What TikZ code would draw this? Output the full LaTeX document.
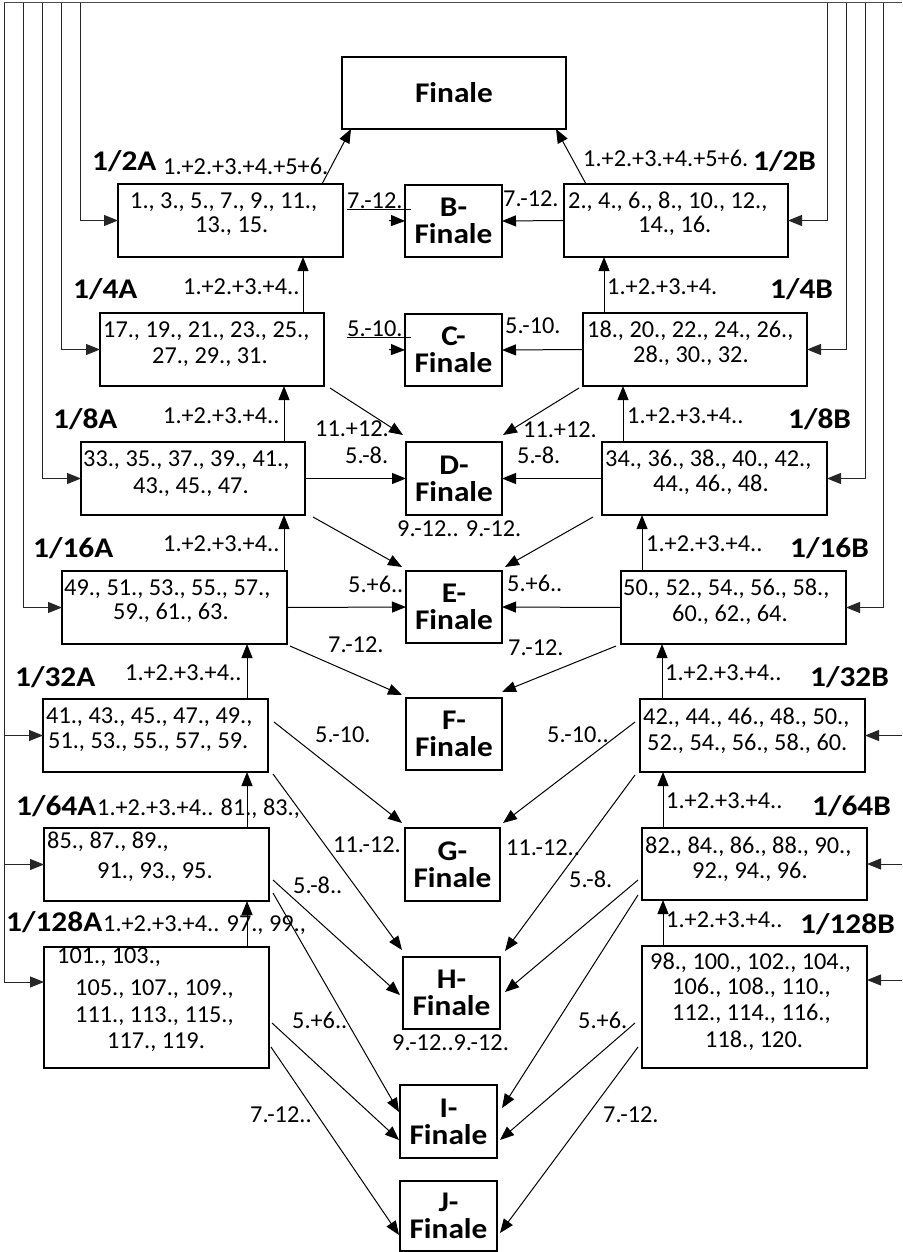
\documentclass[tikz,border=0pt]{standalone}
\usepackage{fontspec}
\setmainfont{Carlito}
\newfontfamily\bwide{Carlito}[FakeStretch=1.1]
\usetikzlibrary{arrows.meta,calc}
\newcommand\Tline[4]{\node[txt] (#1) at (#2,#3) {#4};}
\newcommand\Blab[4]{\node[blab] (#1) at (#2,#3) {#4};}
\begin{document}
\begin{tikzpicture}[x=1pt,y=-1pt,
  box/.style={draw, line width=2pt, anchor=north west, inner sep=0pt, outer sep=0pt},
  fbox/.style={box, font=\bwide\bfseries\fontsize{28.5}{27}\selectfont, align=center},
  txt/.style={anchor=base west, inner sep=0pt, font=\fontsize{24.3}{25}\selectfont},
  blab/.style={anchor=base west, inner sep=0pt, font=\bwide\bfseries\fontsize{28.5}{27}\selectfont},
  arr/.style={-{Triangle[length=14pt,width=11pt]}, line width=1pt},
  feed/.style={line width=1pt, draw=black!85},
  feedarr/.style={arr, draw=black!85},
]
\useasboundingbox (0,0) rectangle (902,1252);

% ---------- boxes ----------
\node[fbox, minimum width=224pt, minimum height=72pt] (fin) at (342,57) {Finale};
\node[box, minimum width=225pt, minimum height=73pt] (a2) at (118,184) {};
\node[fbox, minimum width=97pt, minimum height=72pt] (bf) at (405,185) {B-\\Finale};
\node[box, minimum width=224pt, minimum height=73pt] (b2) at (564,184) {};
\node[box, minimum width=224pt, minimum height=73pt] (a4) at (100,313) {};
\node[fbox, minimum width=97pt, minimum height=72pt] (c) at (405,314) {C-\\Finale};
\node[box, minimum width=224pt, minimum height=73pt] (b4) at (583,313) {};
\node[box, minimum width=224pt, minimum height=73pt] (a8) at (81,442) {};
\node[fbox, minimum width=96pt, minimum height=73pt] (d) at (406,442) {D-\\Finale};
\node[box, minimum width=225pt, minimum height=73pt] (b8) at (602,442) {};
\node[box, minimum width=225pt, minimum height=73pt] (a16) at (62,571) {};
\node[fbox, minimum width=96pt, minimum height=72pt] (e) at (406,571) {E-\\Finale};
\node[box, minimum width=225pt, minimum height=73pt] (b16) at (621,571) {};
\node[box, minimum width=225pt, minimum height=73pt] (a32) at (43,699) {};
\node[fbox, minimum width=96pt, minimum height=72pt] (f) at (406,698) {F-\\Finale};
\node[box, minimum width=225pt, minimum height=73pt] (b32) at (640,699) {};
\node[box, minimum width=225pt, minimum height=73pt] (a64) at (44,828) {};
\node[fbox, minimum width=95pt, minimum height=73pt] (g) at (405,828) {G-\\Finale};
\node[box, minimum width=225pt, minimum height=72pt] (b64) at (642,828) {};
\node[box, minimum width=225pt, minimum height=121pt] (a128) at (44,947) {};
\node[fbox, minimum width=97pt, minimum height=72pt] (h) at (403,957) {H-\\Finale};
\node[box, minimum width=225pt, minimum height=122pt] (b128) at (642,946) {};
\node[fbox, minimum width=97pt, minimum height=73pt] (i) at (400,1085) {I-\\Finale};
\node[fbox, minimum width=97pt, minimum height=70pt] (j) at (400,1181) {J-\\Finale};

% ---------- box texts ----------
\Tline{a2l1}{130}{208}{1., 3., 5., 7., 9., 11.,}
\Tline{a2l2}{195}{233}{13., 15.}
\Tline{b2l1}{568}{208}{2., 4., 6., 8., 10., 12.,}
\Tline{b2l2}{638}{233}{14., 16.}
\Tline{a4l1}{103}{337}{17., 19., 21., 23., 25.,}
\Tline{a4l2}{152}{363}{27., 29., 31.}
\Tline{b4l1}{587}{337}{18., 20., 22., 24., 26.,}
\Tline{b4l2}{633}{362}{28., 30., 32.}
\Tline{a8l1}{83}{466}{33., 35., 37., 39., 41.,}
\Tline{a8l2}{133}{493}{43., 45., 47.}
\Tline{b8l1}{605}{466}{34., 36., 38., 40., 42.,}
\Tline{b8l2}{653}{491}{44., 46., 48.}
\Tline{a16l1}{64}{595}{49., 51., 53., 55., 57.,}
\Tline{a16l2}{113}{619}{59., 61., 63.}
\Tline{b16l1}{623}{595}{50., 52., 54., 56., 58.,}
\Tline{b16l2}{672}{621}{60., 62., 64.}
\Tline{a32l1}{46}{723}{41., 43., 45., 47., 49.,}
\Tline{a32l2}{48}{748}{51., 53., 55., 57., 59.}
\Tline{b32l1}{643}{724}{42., 44., 46., 48., 50.,}
\Tline{b32l2}{647}{750}{52., 54., 56., 58., 60.}
\Tline{a64l1}{47}{848}{85., 87., 89.,}
\Tline{a64l2}{97}{878}{91., 93., 95.}
\Tline{b64l1}{645}{853}{82., 84., 86., 88., 90.,}
\Tline{b64l2}{692}{878}{92., 94., 96.}
\Tline{a128l1}{57}{963}{101., 103.,}
\Tline{a128l2}{75}{995}{105., 107., 109.,}
\Tline{a128l3}{75}{1022}{111., 113., 115.,}
\Tline{a128l4}{107}{1048}{117., 119.}
\Tline{b128l1}{650}{969}{98., 100., 102., 104.,}
\Tline{b128l2}{672}{994}{106., 108., 110.,}
\Tline{b128l3}{672}{1020}{112., 114., 116.,}
\Tline{b128l4}{705}{1047}{118., 120.}

% ---------- round labels ----------
\Blab{n1}{92}{171}{1/2A}
\Blab{n2}{753}{171}{1/2B}
\Blab{n3}{73}{298}{1/4A}
\Blab{n4}{770}{298}{1/4B}
\Blab{n5}{53}{428}{1/8A}
\Blab{n6}{788}{428}{1/8B}
\Blab{n7}{33}{557}{1/16A}
\Blab{n8}{790}{557}{1/16B}
\Blab{n9}{15}{686}{1/32A}
\Blab{n10}{810}{686}{1/32B}
\Blab{n11}{16}{815}{1/64A}
\Blab{n12}{812}{815}{1/64B}
\Blab{n13}{6}{931}{1/128A}
\Blab{n14}{800}{933}{1/128B}

% ---------- connector labels ----------
\Tline{l1}{163}{175}{1.+2.+3.+4.+5+6.}
\Tline{l2}{583}{167}{1.+2.+3.+4.+5+6.}
\Tline{l3}{347}{208}{7.-12.}
\Tline{l4}{503}{207}{7.-12.}
\Tline{l5}{183}{294}{1.+2.+3.+4..}
\Tline{l6}{607}{294}{1.+2.+3.+4.}
\Tline{l7}{347}{336}{5.-10.}
\Tline{l8}{505}{333}{5.-10.}
\Tline{l9}{163}{423}{1.+2.+3.+4..}
\Tline{l10}{315}{436}{11.+12.}
\Tline{l11}{345}{463}{5.-8.}
\Tline{l12}{523}{437}{11.+12.}
\Tline{l13}{517}{463}{5.-8.}
\Tline{l14}{627}{423}{1.+2.+3.+4..}
\Tline{l15}{397}{536}{9.-12.. 9.-12.}
\Tline{l16}{163}{551}{1.+2.+3.+4..}
\Tline{l17}{348}{592}{5.+6..}
\Tline{l18}{507}{591}{5.+6..}
\Tline{l19}{646}{551}{1.+2.+3.+4..}
\Tline{l20}{328}{652}{7.-12.}
\Tline{l21}{508}{655}{7.-12.}
\Tline{l22}{125}{680}{1.+2.+3.+4..}
\Tline{l23}{665}{680}{1.+2.+3.+4..}
\Tline{l24}{315}{742}{5.-10.}
\Tline{l25}{547}{742}{5.-10..}
\Tline{l26}{97}{815}{1.+2.+3.+4.. 81., 83.,}
\Tline{l27}{333}{852}{11.-12.}
\Tline{l28}{506}{855}{11.-12..}
\Tline{l29}{666}{808}{1.+2.+3.+4..}
\Tline{l30}{293}{893}{5.-8..}
\Tline{l31}{569}{887}{5.-8.}
\Tline{l32}{103}{931}{1.+2.+3.+4.. 97., 99.,}
\Tline{l33}{666}{927}{1.+2.+3.+4..}
\Tline{l34}{392}{1050}{9.-12..9.-12.}
\Tline{l35}{292}{1028}{5.+6..}
\Tline{l36}{578}{1028}{5.+6.}
\Tline{l37}{250}{1122}{7.-12..}
\Tline{l38}{603}{1122}{7.-12.}
\draw[line width=1pt] ([yshift=-1pt]l3.base west) -- ++(64,0);
\draw[line width=1pt] ([yshift=-1pt]l7.base west) -- ++(64,0);

% ---------- feed lines from the top ----------
\coordinate (L1) at (80,3);
\coordinate (L2) at (61,3);
\coordinate (L3) at (42,3);
\coordinate (L4) at (23,3);
\coordinate (L5) at (4,3);
\coordinate (R1) at (827,3);
\coordinate (R2) at (846,3);
\coordinate (R3) at (865,3);
\coordinate (R4) at (883,3);
\coordinate (R5) at (902,3);
\coordinate (a128in) at ($(a128.north west)+(0,35)$);
\coordinate (b128in) at ($(b128.north east)+(0,34)$);
\draw[feed, draw=black!70] (L5) -- (R5);
\draw[feedarr] (L1) |- (a2.west);
\draw[feedarr] (L2) |- (a4.west);
\draw[feedarr] (L3) |- (a8.west);
\draw[feedarr] (L4) |- (a16.west);
\draw[feedarr] (L5) |- (a128in);
\draw[feedarr] (a32.west -| L5) -- (a32.west);
\draw[feedarr] (a64.west -| L5) -- (a64.west);
\draw[feedarr] (R1) |- (b2.east);
\draw[feedarr] (R2) |- (b4.east);
\draw[feedarr] (R3) |- (b8.east);
\draw[feedarr] (R4) |- (b16.east);
\draw[feedarr] (b32.east -| R5) -- (b32.east);
\draw[feedarr] (b64.east -| R5) -- (b64.east);
\draw[feedarr] (b128in -| R5) -- (b128in);

% ---------- upward arrows ----------
\draw[arr] ([xshift=91.5pt]a2.north) -- ([xshift=-103pt]fin.south);
\draw[arr] ([xshift=-90pt]b2.north) -- ([xshift=102pt]fin.south);
\draw[arr] ([xshift=91pt]a4.north) -- ([xshift=72.5pt]a2.south);
\draw[arr] ([xshift=-91pt]b4.north) -- ([xshift=-72pt]b2.south);
\draw[arr] ([xshift=91pt]a8.north) -- ([xshift=72pt]a4.south);
\draw[arr] ([xshift=-91.5pt]b8.north) -- ([xshift=-72pt]b4.south);
\draw[arr] ([xshift=109.5pt]a16.north) -- ([xshift=91pt]a8.south);
\draw[arr] ([xshift=-91.5pt]b16.north) -- ([xshift=-72.5pt]b8.south);
\draw[arr] ([xshift=91.5pt]a32.north) -- ([xshift=72.5pt]a16.south);
\draw[arr] ([xshift=-90.5pt]b32.north) -- ([xshift=-71.5pt]b16.south);
\draw[arr] ([xshift=90.5pt]a64.north) -- ([xshift=91.5pt]a32.south);
\draw[arr] ([xshift=-91.5pt]b64.north) -- ([xshift=-89.5pt]b32.south);
\draw[arr] ([xshift=90.5pt]a128.north) -- ([xshift=90.5pt]a64.south);
\draw[arr] ([xshift=-91.5pt]b128.north) -- ([xshift=-91.5pt]b64.south);

% ---------- horizontal arrows ----------
\draw[arr] ([xshift=46pt]a2.east) -- (bf.west);
\draw[arr] (b2.west) -- (bf.east);
\draw[arr] ([xshift=65pt]a4.east) -- (c.west);
\draw[arr] (b4.west) -- (c.east);
\draw[arr] (a8.east) -- (d.west);
\draw[arr] (b8.west) -- (d.east);
\draw[arr] (a16.east) -- (e.west);
\draw[arr] (b16.west) -- (e.east);

% ---------- diagonal arrows ----------
\draw[arr] ($(a4.south east)+(6,2)$) -- ($(d.north west)+(-3,-7)$);
\draw[arr] ($(b4.south west)+(-4,2)$) -- ($(d.north east)+(1,-7)$);
\draw[arr] ($(a8.south east)+(8,2)$) -- ($(e.north west)+(-4,-4)$);
\draw[arr] ($(b8.south west)+(-9,2)$) -- ($(e.north east)+(3,-4)$);
\draw[arr] ($(a16.south east)+(3,2)$) -- ($(f.north west)+(-4,-3)$);
\draw[arr] ($(b16.south west)+(-5,2)$) -- ($(f.north east)+(0,-6)$);
\draw[arr] ($(a32.north east)+(6,23)$) -- ($(g.north west)+(-3,-5)$);
\draw[arr] ($(a32.south east)+(5,2)$) -- ($(h.north west)+(-1,-7)$);
\draw[arr] ($(b32.north west)+(-5,23)$) -- ($(g.north east)+(3,-5)$);
\draw[arr] ($(b32.south west)+(-5,3)$) -- ($(h.north east)+(5,-6)$);
\draw[arr] ($(a64.north east)+(4,52)$) -- ($(h.west)+(-3,2)$);
\draw[arr] ($(a64.south east)+(4,-8)$) -- ($(i.north west)+(-1,27)$);
\draw[arr] ($(b64.north west)+(-4,52)$) -- ($(h.east)+(5,-1)$);
\draw[arr] ($(b64.south west)+(-4,-5)$) -- ($(i.north east)+(5,23)$);
\draw[arr] ($(a128.north east)+(3,76)$) -- ($(i.west)+(-1,18.5)$);
\draw[arr] ($(a128.north east)+(2,100)$) -- ($(j.north west)+(-1,54)$);
\draw[arr] ($(b128.north west)+(-7,77)$) -- ($(i.east)+(3,18.5)$);
\draw[arr] ($(b128.north west)+(-4,101)$) -- ($(j.north east)+(3,52)$);
\end{tikzpicture}
\end{document}
